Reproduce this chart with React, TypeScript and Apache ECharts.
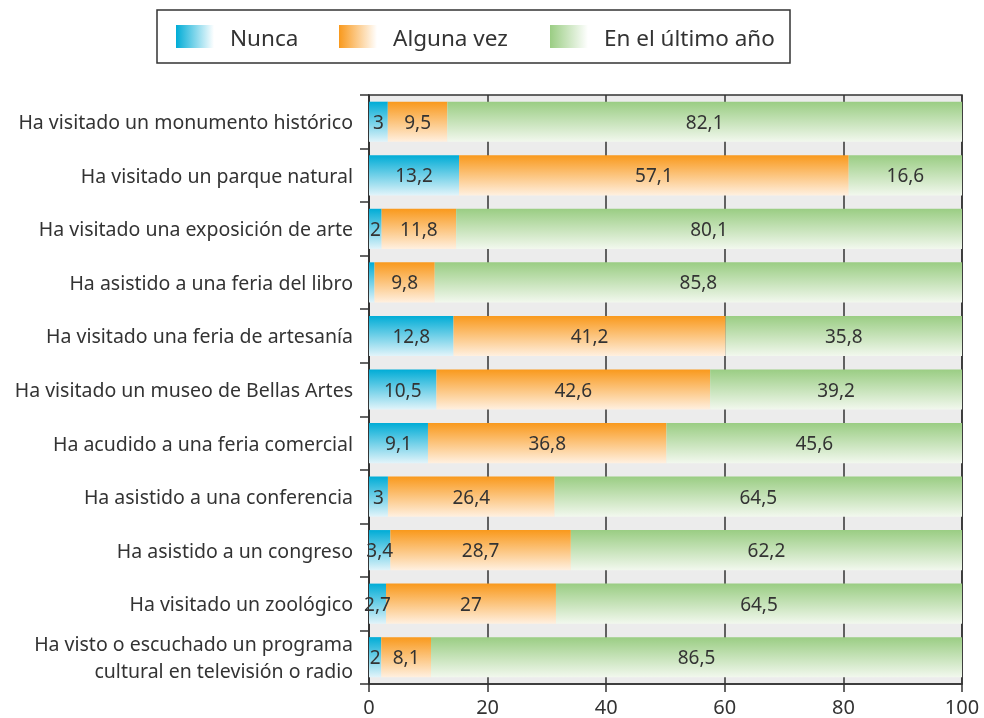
import React, { useEffect, useRef } from "react";
import * as echarts from "echarts";

const categories = [
  "Ha visitado un monumento histórico",
  "Ha visitado un parque natural",
  "Ha visitado una exposición de arte",
  "Ha asistido a una feria del libro",
  "Ha visitado una feria de artesanía",
  "Ha visitado un museo de Bellas Artes",
  "Ha acudido a una feria comercial",
  "Ha asistido a una conferencia",
  "Ha asistido a un congreso",
  "Ha visitado un zoológico",
  "Ha visto o escuchado un programa\ncultural en televisión o radio",
];
const nunca = [3, 13.2, 2, 0.9, 12.8, 10.5, 9.1, 3, 3.4, 2.7, 2];
const alguna = [9.5, 57.1, 11.8, 9.8, 41.2, 42.6, 36.8, 26.4, 28.7, 27, 8.1];
const ultimo = [82.1, 16.6, 80.1, 85.8, 35.8, 39.2, 45.6, 64.5, 62.2, 64.5, 86.5];
const seriesNames = ["Nunca", "Alguna vez", "En el último año"];
const xTicks = [0, 20, 40, 60, 80, 100];

const FONT = "Noto Sans";
const TEXT = "#333333";
const colorsTop = ["#00acd6", "#f9991c", "#9acd83"];
const colorsBottom = ["#e2f4fa", "#fff0e0", "#f2f8ee"];

const vGrad = (i: number) =>
  new echarts.graphic.LinearGradient(0, 0, 0, 1, [
    { offset: 0, color: colorsTop[i] },
    { offset: 1, color: colorsBottom[i] },
  ]);
const hGrad = (i: number) =>
  new echarts.graphic.LinearGradient(0, 0, 1, 0, [
    { offset: 0, color: colorsTop[i] },
    { offset: 1, color: "#ffffff" },
  ]);

export default function App() {
  const ref = useRef<HTMLDivElement>(null);
  useEffect(() => {
    if (!ref.current) return;
    const chart = echarts.init(ref.current, null, { renderer: "svg" });
    const all = [nunca, alguna, ultimo];
    const totals = categories.map((_, i) => nunca[i] + alguna[i] + ultimo[i]);
    const fmt = (v: number) => String(v).replace(".", ",");
    const series = all.map((arr, si) => ({
      name: seriesNames[si],
      type: "bar",
      stack: "total",
      barWidth: "75%",
      itemStyle: { color: vGrad(si) },
      label: {
        show: true,
        position: "inside",
        color: TEXT,
        fontFamily: FONT,
        fontSize: 19,
        formatter: (p: any) => (p.data.raw < 1.5 ? "" : fmt(p.data.raw)),
      },
      data: arr.map((v, i) => ({ value: (v / totals[i]) * 100, raw: v })),
    }));

    const items = [
      { ix: 176, tx: 230 },
      { ix: 339, tx: 393 },
      { ix: 550, tx: 604 },
    ];
    const graphic: any[] = [
      {
        type: "rect",
        shape: { x: 157, y: 10, width: 633, height: 53 },
        style: { fill: "#fff", stroke: "#333", lineWidth: 1.5 },
      },
    ];
    items.forEach((it, i) => {
      graphic.push({
        type: "rect",
        shape: { x: it.ix, y: 25, width: 38, height: 23 },
        style: { fill: hGrad(i) },
      });
      graphic.push({
        type: "text",
        x: it.tx,
        y: 37,
        style: {
          text: seriesNames[i],
          fill: TEXT,
          font: `22.5px "${FONT}"`,
          verticalAlign: "middle",
        },
      });
    });

    chart.setOption({
      animation: false,
      graphic,
      grid: {
        left: 369,
        right: 22,
        top: 95,
        bottom: 34,
        show: true,
        backgroundColor: "#ececec",
        borderColor: "#333",
        borderWidth: 1.5,
      },
      xAxis: {
        type: "value",
        min: 0,
        max: 100,
        interval: 20,
        axisLine: { show: true, lineStyle: { color: "#333", width: 1.5 } },
        axisTick: { show: true, length: 8, lineStyle: { color: "#333", width: 1.5 } },
        axisLabel: {
          color: TEXT,
          fontFamily: FONT,
          fontSize: 20,
          lineHeight: 20,
          margin: 12,
          formatter: (v: number) => (xTicks.includes(v) ? String(v) : ""),
        },
        splitLine: { show: true, lineStyle: { color: "#333", width: 1.5 } },
      },
      yAxis: {
        type: "category",
        inverse: true,
        data: categories,
        axisLine: { show: true, lineStyle: { color: "#333", width: 1.5 } },
        axisTick: { show: true, length: 9, lineStyle: { color: "#333", width: 1.5 } },
        axisLabel: {
          color: TEXT,
          fontFamily: FONT,
          fontSize: 19.5,
          margin: 16,
          lineHeight: 27,
        },
      },
      series,
    });
    return () => chart.dispose();
  }, []);
  return (
    <div
      ref={ref}
      style={{ position: "fixed", left: 0, top: 0, width: 984, height: 718 }}
    />
  );
}
